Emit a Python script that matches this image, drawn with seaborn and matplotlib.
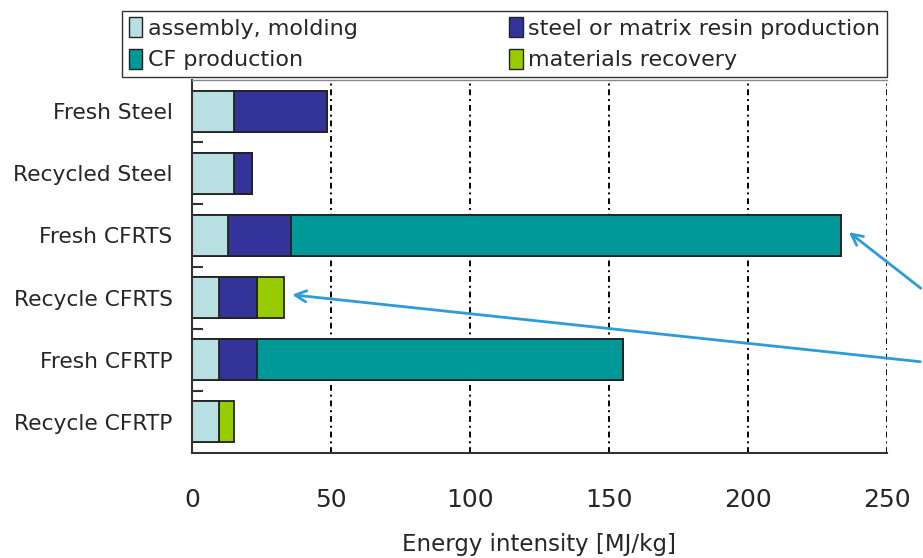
import matplotlib
matplotlib.use("Agg")
import matplotlib.pyplot as plt
import matplotlib.patches as mpatches
import seaborn as sns
import numpy as np
import pandas as pd

sns.set_style("white")
plt.rcParams['font.family'] = ['DejaVu Sans']

categories = ["Fresh Steel", "Recycled Steel", "Fresh CFRTS", "Recycle CFRTS", "Fresh CFRTP", "Recycle CFRTP"]
assembly = [15, 15, 13, 9.7, 9.7, 9.7]
steel_resin = [33.6, 6.6, 22.6, 13.7, 13.7, 0]
cf_prod = [0, 0, 198, 0, 131.6, 0]
recovery = [0, 0, 0, 9.7, 0, 5.4]

series_names = ["assembly, molding", "steel or matrix resin production", "CF production", "materials recovery"]
colors = ["#B8DFE2", "#333399", "#009999", "#99CC00"]

df = pd.DataFrame({"cat": categories, "a": assembly, "s": steel_resin, "c": cf_prod, "r": recovery})
df["cum_a"] = df["a"]
df["cum_s"] = df["cum_a"] + df["s"]
df["cum_c"] = df["cum_s"] + df["c"]
df["cum_r"] = df["cum_c"] + df["r"]

fig = plt.figure(figsize=(9.23, 5.58), dpi=100)
ax = fig.add_axes([192/923, 1 - 453/558, (887-192)/923, (453-80)/558])

# stacked look: draw running totals from the outermost layer inward
for col, colr in zip(["cum_r", "cum_c", "cum_s", "cum_a"], colors[::-1]):
    sns.barplot(data=df, y="cat", x=col, order=categories, color=colr, orient="h",
                width=0.66, edgecolor="#222222", linewidth=1.3, saturation=1, ax=ax)

ax.set_xlim(0, 250)
ax.set_ylim(5.5, -0.5)
ax.set_ylabel("")
ax.set_xlabel("Energy intensity [MJ/kg]", fontsize=16.5, labelpad=15)
ax.set_xticks([0, 50, 100, 150, 200, 250])
ax.tick_params(axis="x", labelsize=18, pad=25, length=0)
ax.tick_params(axis="y", labelsize=15.7, length=0, pad=14)
ax.set_yticks(np.arange(0.5, 5.5, 1), minor=True)
ax.tick_params(axis="y", which="minor", direction="in", length=8, width=1.5, color="#333333", left=True)

for xv in [50, 100, 150, 200, 250]:
    ax.axvline(xv, color="black", linestyle=(0, (3, 2, 1, 2)), linewidth=1.4, zorder=0.5)

for side in ["left", "bottom"]:
    ax.spines[side].set_color("#333333")
    ax.spines[side].set_linewidth(1.5)
ax.spines["top"].set_color("#888888")
ax.spines["top"].set_linewidth(1.0)
ax.spines["right"].set_visible(False)

handles = [mpatches.Patch(facecolor=colors[i], edgecolor="#222222", linewidth=1.0, label=series_names[i])
           for i in [0, 2, 1, 3]]
leg = fig.legend(handles=handles, ncol=2, loc="lower left",
                 bbox_to_anchor=(122/923, 1 - 77/558, (887-122)/923, 74/558), mode="expand",
                 frameon=True, fancybox=False, edgecolor="black", fontsize=16,
                 handlelength=0.6, handleheight=1.0, handletextpad=0.25, borderpad=0.3,
                 labelspacing=0.45, borderaxespad=0)
leg.get_frame().set_linewidth(1.0)

arrow_color = "#2B9BD9"
ax.annotate("", xy=(235.5, 1.92), xycoords="data", xytext=(1.0, 1 - 290/558), textcoords="figure fraction",
            arrowprops=dict(arrowstyle="->,head_length=0.8,head_width=0.4", color=arrow_color, lw=2),
            annotation_clip=False)
ax.annotate("", xy=(35, 2.95), xycoords="data", xytext=(1.0, 1 - 362/558), textcoords="figure fraction",
            arrowprops=dict(arrowstyle="->,head_length=0.8,head_width=0.4", color=arrow_color, lw=2),
            annotation_clip=False)

fig.savefig("out.png", dpi=100)
